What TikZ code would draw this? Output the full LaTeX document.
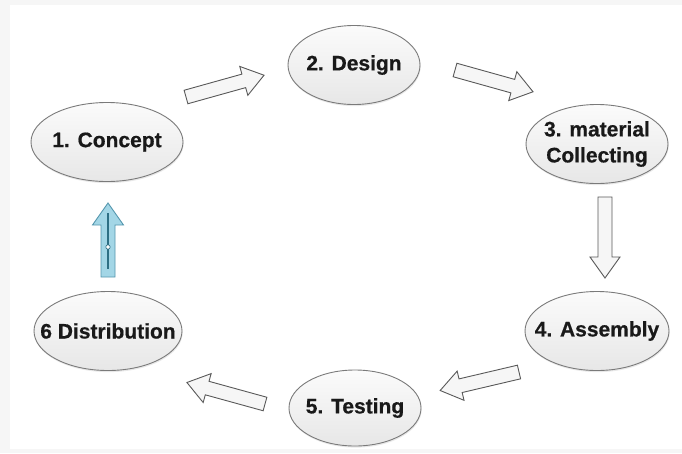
\documentclass[tikz,border=0pt]{standalone}
\usepackage{fontspec}
\setmainfont{Liberation Sans}
\newfontfamily\stagefont[FakeBold=0.6]{Liberation Sans Bold}
\usetikzlibrary{positioning,shapes.geometric,shadows}

\definecolor{rim}{HTML}{7A7A7A}
\definecolor{liftfill}{HTML}{A3D6E6}
\definecolor{liftrim}{HTML}{5597AE}
\definecolor{liftbar}{HTML}{2E6F84}

% text of a stage, kept from widening its ellipse
\newcommand{\stg}[1]{\makebox[0pt]{#1}}

\tikzset{
  stage/.style={ellipse, draw=rim, line width=0.9pt, top color=gray!3, bottom color=gray!19,
    minimum width=146pt, minimum height=79pt, inner sep=0pt, align=center,
    font=\fontsize{21}{26}\stagefont, text=black!90,
    drop shadow={opacity=0.18, shadow xshift=0.6pt, shadow yshift=-1.6pt}},
  flow/.style={draw=gray!70!black, line width=0.9pt, fill=gray!7, line join=miter},
  blockarrow/.pic={
    \path[flow, pic actions] (0,-7) -- (60,-7) -- (60,-15) -- (81,0) -- (60,15) -- (60,7) -- (0,7) -- cycle;
  },
  liftarrow/.pic={
    \path[flow, fill=liftfill, draw=liftrim] (-7,0) -- (-7,-52) -- (-15.5,-52) -- (0,-74) -- (15.5,-52) -- (7,-52) -- (7,0) -- cycle;
    \draw[liftbar, line width=1.1pt] (0,-64) -- (0,-8);
    \draw[liftbar, fill=white, line width=0.6pt] (0,-30) circle (2.2);
  }
}

\begin{document}
\begin{tikzpicture}[x=1pt, y=-1pt]
\useasboundingbox (0,0) rectangle (682,453);
\fill[gray!7] (0,0) rectangle (682,453);
\fill[white] (10,5) rectangle (682,449);

% the six stages
\node[stage, minimum width=152pt] (concept) at (107,142) {\stg{1. Concept}};
\node[stage, minimum width=132pt] (design) at (354,65) {\stg{2. Design}};
\node[stage, minimum width=142pt] (material) at (597,144) {\stg{3. material}\\\stg{Collecting}};
\node[stage, minimum width=144pt] (assembly) at (597,331) {\stg{4. Assembly}};
\node[stage, minimum width=132pt, minimum height=76pt] (testing) at (355,408) {\stg{5. Testing}};
\node[stage, minimum width=148pt] (distribution) at (108,331) {\stg{6 Distribution}};

% block arrows between the stages
\pic[rotate=15.6] at (186,97) {blockarrow};
\pic[rotate=-15.6] at (455,70) {blockarrow};
\pic[rotate=-90] at (605,197) {blockarrow};
\pic[rotate=193.2] at (519,372) {blockarrow};
\pic[rotate=164.6] at (265,404) {blockarrow};
\pic at (108,277) {liftarrow};
\end{tikzpicture}
\end{document}
